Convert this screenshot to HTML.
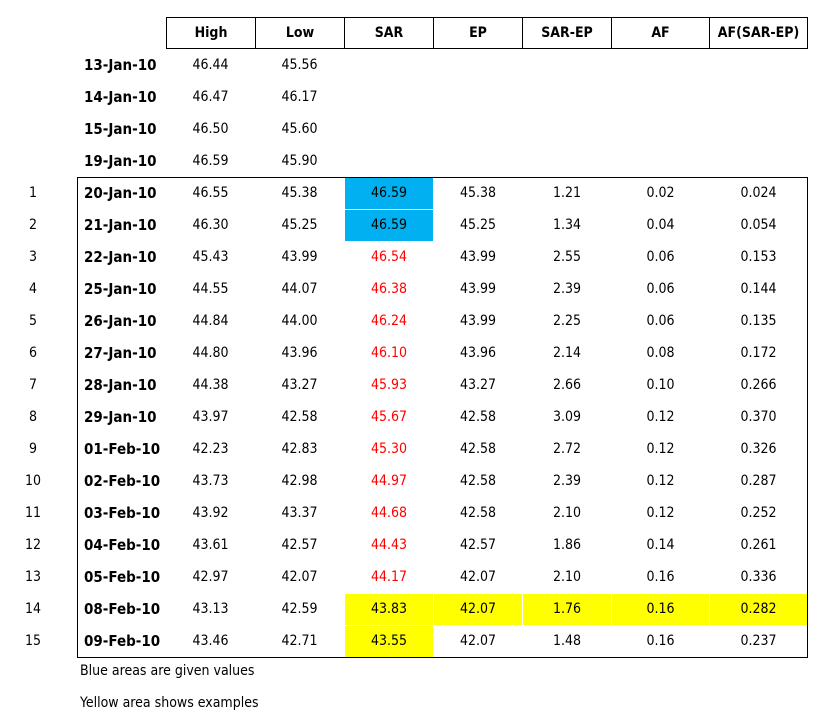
<!DOCTYPE html>
<html><head><meta charset="utf-8"><style>
body{margin:0;width:820px;height:724px;background:#fff;font-family:"DejaVu Sans Condensed","Liberation Sans",sans-serif;position:relative;overflow:hidden}
.a{position:absolute}
.hd{position:absolute;top:17px;height:32px;border:1px solid #000;box-sizing:border-box;text-align:center;line-height:30px;font-weight:bold;font-size:14px}
.c{position:absolute;height:32px;line-height:32px;text-align:center;font-size:14px;color:#000}
.d{position:absolute;left:84px;height:32px;line-height:32px;font-weight:bold;font-size:15px}
.n{position:absolute;left:18px;width:30px;text-align:center;height:32px;line-height:32px;font-size:14px}
</style></head><body>
<div id="tbl"></div>
<div class="a" style="left:77px;top:177px;width:731px;height:481px;border:1px solid #000;box-sizing:border-box"></div>
<div class="a" style="left:80px;top:663px;font-size:14px">Blue areas are given values</div>
<div class="a" style="left:80px;top:695px;font-size:14px">Yellow area shows examples</div>
<script>
const headers=["High","Low","SAR","EP","SAR-EP","AF","AF(SAR-EP)"];
const dates=["13-Jan-10","14-Jan-10","15-Jan-10","19-Jan-10","20-Jan-10","21-Jan-10","22-Jan-10","25-Jan-10","26-Jan-10","27-Jan-10","28-Jan-10","29-Jan-10","01-Feb-10","02-Feb-10","03-Feb-10","04-Feb-10","05-Feb-10","08-Feb-10","09-Feb-10"];
const high=["46.44","46.47","46.50","46.59","46.55","46.30","45.43","44.55","44.84","44.80","44.38","43.97","42.23","43.73","43.92","43.61","42.97","43.13","43.46"];
const low=["45.56","46.17","45.60","45.90","45.38","45.25","43.99","44.07","44.00","43.96","43.27","42.58","42.83","42.98","43.37","42.57","42.07","42.59","42.71"];
const sar=["46.59","46.59","46.54","46.38","46.24","46.10","45.93","45.67","45.30","44.97","44.68","44.43","44.17","43.83","43.55"];
const ep=["45.38","45.25","43.99","43.99","43.99","43.96","43.27","42.58","42.58","42.58","42.58","42.57","42.07","42.07","42.07"];
const sarep=["1.21","1.34","2.55","2.39","2.25","2.14","2.66","3.09","2.72","2.39","2.10","1.86","2.10","1.76","1.48"];
const af=["0.02","0.04","0.06","0.06","0.06","0.08","0.10","0.12","0.12","0.12","0.12","0.14","0.16","0.16","0.16"];
const afx=["0.024","0.054","0.153","0.144","0.135","0.172","0.266","0.370","0.326","0.287","0.252","0.261","0.336","0.282","0.237"];
const colX=[166,255,344,433,522,611,709,807];
const T=document.getElementById('tbl');
function add(cls,txt,l,t,w,style){const e=document.createElement('div');e.className=cls;e.textContent=txt;e.style.left=l+'px';e.style.top=t+'px';if(w)e.style.width=w+'px';if(style)e.style.cssText+=style;T.appendChild(e);return e;}
headers.forEach((h,i)=>{const e=add('hd',h,colX[i],17,colX[i+1]-colX[i]+1);

});
dates.forEach((d,r)=>{const y=49+32*r;
const e=add('d',d,0,y);e.style.left='84px';


const h=add('c',high[r],colX[0],y,89);


const l=add('c',low[r],colX[1],y,89);


const k=r-4;
if(k>=0){
const n=add('n',String(k+1),18,y);


const vals=[sar[k],ep[k],sarep[k],af[k],afx[k]];
vals.forEach((v,j)=>{const ci=j+2;let st='';
if(j===0&&k<2)st='background:#00b0f0;';
else if(j===0&&k>=2&&k<=12)st='color:#ff0000;';
if(k===13||(k===14&&j===0))st+='background:#ffff00;';
const x0=colX[ci]+1,w=colX[ci+1]-colX[ci]-1;
const c=add('c',v,x0,y+1,w,st+'height:31px;line-height:31px;');

});
}});
</script>
</body></html>
